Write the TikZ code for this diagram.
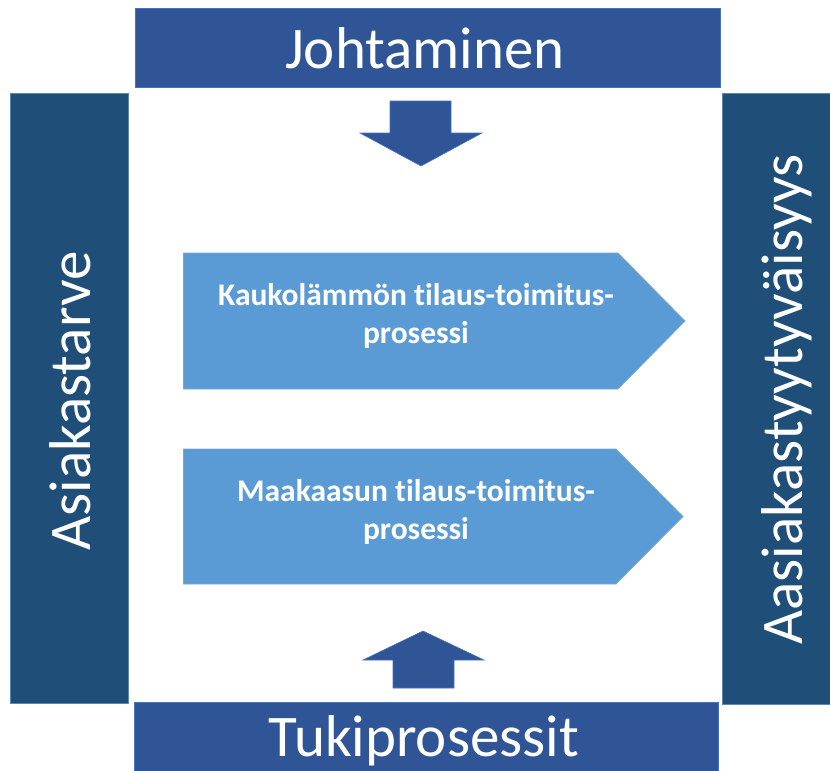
\documentclass[tikz,border=0pt]{standalone}
\usepackage{fontspec}
\setmainfont[Ligatures=NoCommon]{Carlito}
\definecolor{hdrblue}{HTML}{2F5597}
\definecolor{hdredge}{HTML}{4472C4}
\definecolor{sideblue}{HTML}{1F4E79}
\definecolor{sideedge}{HTML}{5B86B5}
\definecolor{procblue}{HTML}{5B9BD5}
\definecolor{procedge}{HTML}{7BA7D6}
\begin{document}
\begin{tikzpicture}[x=1pt,y=-1pt,
  hdrbox/.style={fill=hdrblue,draw=hdredge,line width=0.8pt},
  sidebar/.style={fill=sideblue,draw=sideedge,line width=0.8pt},
  procshape/.style={fill=procblue,draw=procedge,line width=0.8pt},
  flowarrow/.style={fill=hdrblue,draw=hdredge,line width=0.6pt},
  bigtext/.style={text=white,inner sep=0pt,font=\fontsize{59}{70}\selectfont},
  proctext/.style={text=white,inner sep=0pt,font=\bfseries\fontsize{31.5}{38}\selectfont}]
\useasboundingbox (0,0) rectangle (830,771);
\clip (0,0) rectangle (830,771);

% frame: management on top, support processes at the bottom, sides
\path[hdrbox] (135,8) rectangle (720,87);
\node[bigtext,anchor=base] (lead) at (425,68) {Johtaminen};

\path[hdrbox] (134,702) rectangle (718,775);
\node[bigtext,anchor=base] (support) at (424,756) {Tukiprosessit};

\path[sidebar] (10,93) rectangle (128,703);
\node[bigtext,anchor=base,rotate=90] (need) at (90,401) {Asiakastarve};

\path[sidebar] (722,93) rectangle (834,704);
\node[bigtext,anchor=base,rotate=90] (satisf) at (802,399.5) {Aasiakastyytyväisyys};

% block arrows
\path[flowarrow] (390,101) -- (451,101) -- (451,133) -- (482,133) -- (421,166)
  -- (360,133) -- (390,133) -- cycle;
\path[flowarrow] (393,688) -- (454,688) -- (454,660) -- (484,660) -- (423,631)
  -- (363,660) -- (393,660) -- cycle;

% process chevrons
\path[procshape] (183.5,253) -- (618,253) -- (685,321) -- (618,389) -- (183.5,389) -- cycle;
\node[proctext,anchor=base] (dh1) at (416,305) {Kaukolämmön tilaus-toimitus-};
\node[proctext,anchor=base] (dh2) at (416,343) {prosessi};

\path[procshape] (183.5,449) -- (616,449) -- (683,516.5) -- (616,584) -- (183.5,584) -- cycle;
\node[proctext,anchor=base] (ng1) at (416,501) {Maakaasun tilaus-toimitus-};
\node[proctext,anchor=base] (ng2) at (416,539) {prosessi};
\end{tikzpicture}
\end{document}
